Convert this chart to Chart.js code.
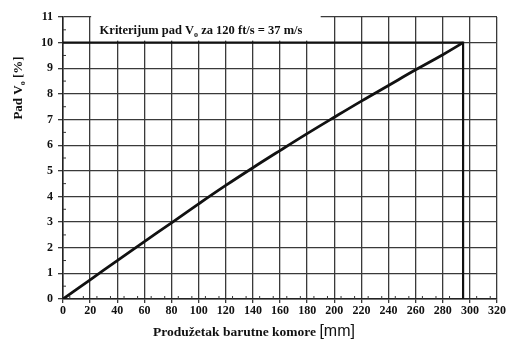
<!DOCTYPE html>
<html>
<head>
<meta charset="utf-8">
<script src="https://cdn.jsdelivr.net/npm/chart.js@4.4.1/dist/chart.umd.min.js"></script>
<style>
  html, body { margin: 0; padding: 0; background: #fff; overflow: hidden; }
  canvas { display: block; }
</style>
</head>
<body>
<canvas id="chart" width="509" height="342"></canvas>
<script>
// pad brzine Vo u zavisnosti od produzetka barutne komore
var produzetak = [0, 20, 40, 60, 80, 100, 120, 140, 160, 180, 200, 220, 240, 260, 280, 295];
var padV0      = [0, 0.75, 1.5, 2.24, 2.97, 3.71, 4.43, 5.12, 5.79, 6.45, 7.09, 7.72, 8.33, 8.94, 9.53, 10];

// kriterijum: 10 % pada, dostignut na 295 mm
var kritX = [0, 295, 295];
var kritY = [10, 10, 0];

var xTicks = [0, 20, 40, 60, 80, 100, 120, 140, 160, 180, 200, 220, 240, 260, 280, 300, 320];
var yTicks = [0, 1, 2, 3, 4, 5, 6, 7, 8, 9, 10, 11];

var kritLabel = "Kriterijum pad V";
var kritLabelRest = " za 120 ft/s = 37 m/s";

function toPoints(xs, ys) {
  var pts = [];
  for (var i = 0; i < xs.length; i++) {
    pts.push({ x: xs[i], y: ys[i] });
  }
  return pts;
}

var serif = "'Liberation Serif', 'DejaVu Serif', serif";
var sans = "'Liberation Sans', Arial, sans-serif";

var extras = {
  id: "extras",
  beforeDatasetsDraw: function(chart) {
    var c = chart.ctx, xs = chart.scales.x, ys = chart.scales.y;
    // white box behind the criterion label
    var x0 = xs.getPixelForValue(20), x1 = xs.getPixelForValue(190);
    var yTop = ys.getPixelForValue(11), yBot = ys.getPixelForValue(10);
    c.save();
    c.fillStyle = "#fff";
    c.fillRect(x0 + 1, yTop - 2, x1 - x0 - 1, yBot - yTop);
    // minor ticks along the axes
    c.strokeStyle = "#333";
    c.lineWidth = 1;
    var yb = ys.getPixelForValue(0);
    for (var v = 5; v < 320; v += 10) {
      var px = xs.getPixelForValue(v);
      c.beginPath(); c.moveTo(px, yb); c.lineTo(px, yb - 3); c.stroke();
    }
    var xl = xs.getPixelForValue(0);
    for (var w = 0.5; w < 11; w += 1) {
      var py = ys.getPixelForValue(w);
      c.beginPath(); c.moveTo(xl, py); c.lineTo(xl + 3, py); c.stroke();
    }
    // label text
    c.fillStyle = "#111";
    c.textBaseline = "alphabetic";
    c.font = "bold 12.5px " + serif;
    var tx = xs.getPixelForValue(27), ty = (yTop + yBot) / 2 + 4;
    c.fillText(kritLabel, tx, ty);
    var w1 = c.measureText(kritLabel).width;
    c.font = "bold 8px " + serif;
    c.fillText("o", tx + w1, ty + 3);
    var w2 = c.measureText("o").width;
    c.font = "bold 12.5px " + serif;
    c.fillText(kritLabelRest, tx + w1 + w2, ty);
    c.restore();
  },
  afterDraw: function(chart) {
    var c = chart.ctx;
    c.save();
    c.fillStyle = "#111";
    // x axis title: serif words, sans units
    var t1 = "Produžetak barutne komore ", t2 = "[mm]";
    c.font = "bold 13.5px " + serif;
    var w1 = c.measureText(t1).width;
    c.font = "16px " + sans;
    var w2 = c.measureText(t2).width;
    var sx = 254 - (w1 + w2) / 2;
    c.textBaseline = "alphabetic";
    c.font = "bold 13.5px " + serif;
    c.fillText(t1, sx, 336);
    c.font = "16px " + sans;
    c.fillText(t2, sx + w1, 336);
    // y axis title, rotated
    c.translate(22, 88);
    c.rotate(-Math.PI / 2);
    c.font = "bold 13px " + serif;
    var p1 = "Pad V", p2 = "o", p3 = " [%]";
    var q1 = c.measureText(p1).width;
    c.font = "bold 8px " + serif;
    var q2 = c.measureText(p2).width;
    c.font = "bold 13px " + serif;
    var q3 = c.measureText(p3).width;
    var st = -(q1 + q2 + q3) / 2;
    c.fillText(p1, st, 0);
    c.font = "bold 8px " + serif;
    c.fillText(p2, st + q1, 3);
    c.font = "bold 13px " + serif;
    c.fillText(p3, st + q1 + q2, 0);
    c.restore();
  }
};

var ctx = document.getElementById("chart");

var chart = new Chart(ctx, {
  type: "line",
  data: {
    datasets: [
      {
        label: "Pad Vo",
        data: toPoints(produzetak, padV0),
        borderColor: "#111",
        borderWidth: 2.8,
        fill: false,
        tension: 0.4,
        pointRadius: 0
      },
      {
        label: "Kriterijum",
        data: toPoints(kritX, kritY),
        borderColor: "#111",
        borderWidth: 2.2,
        fill: false,
        tension: 0,
        pointRadius: 0
      }
    ]
  },
  options: {
    responsive: false,
    animation: false,
    devicePixelRatio: 1,
    layout: { padding: { left: 0, right: 12, top: 17, bottom: 0 } },
    plugins: {
      legend: { display: false },
      tooltip: { enabled: false }
    },
    scales: {
      x: {
        type: "linear",
        min: 0,
        max: 320,
        afterBuildTicks: function(s) { s.ticks = xTicks.map(function(v) { return { value: v }; }); },
        afterFit: function(s) { s.height = 43; },
        grid: { color: "#3a3a3a", lineWidth: 1.3, tickLength: 4, drawTicks: true },
        border: { color: "#222", width: 1.5 },
        ticks: {
          color: "#111",
          padding: 1,
          maxRotation: 0,
          autoSkip: false,
          font: { family: serif, size: 12, weight: "bold" }
        }
      },
      y: {
        type: "linear",
        min: 0,
        max: 11,
        afterBuildTicks: function(s) { s.ticks = yTicks.map(function(v) { return { value: v }; }); },
        afterFit: function(s) { s.width = 63; },
        grid: { color: "#3a3a3a", lineWidth: 1.3, tickLength: 5, drawTicks: true },
        border: { color: "#222", width: 1.5 },
        ticks: {
          color: "#111",
          padding: 5,
          autoSkip: false,
          font: { family: serif, size: 12, weight: "bold" }
        }
      }
    }
  },
  plugins: [extras]
});
</script>
</body>
</html>
